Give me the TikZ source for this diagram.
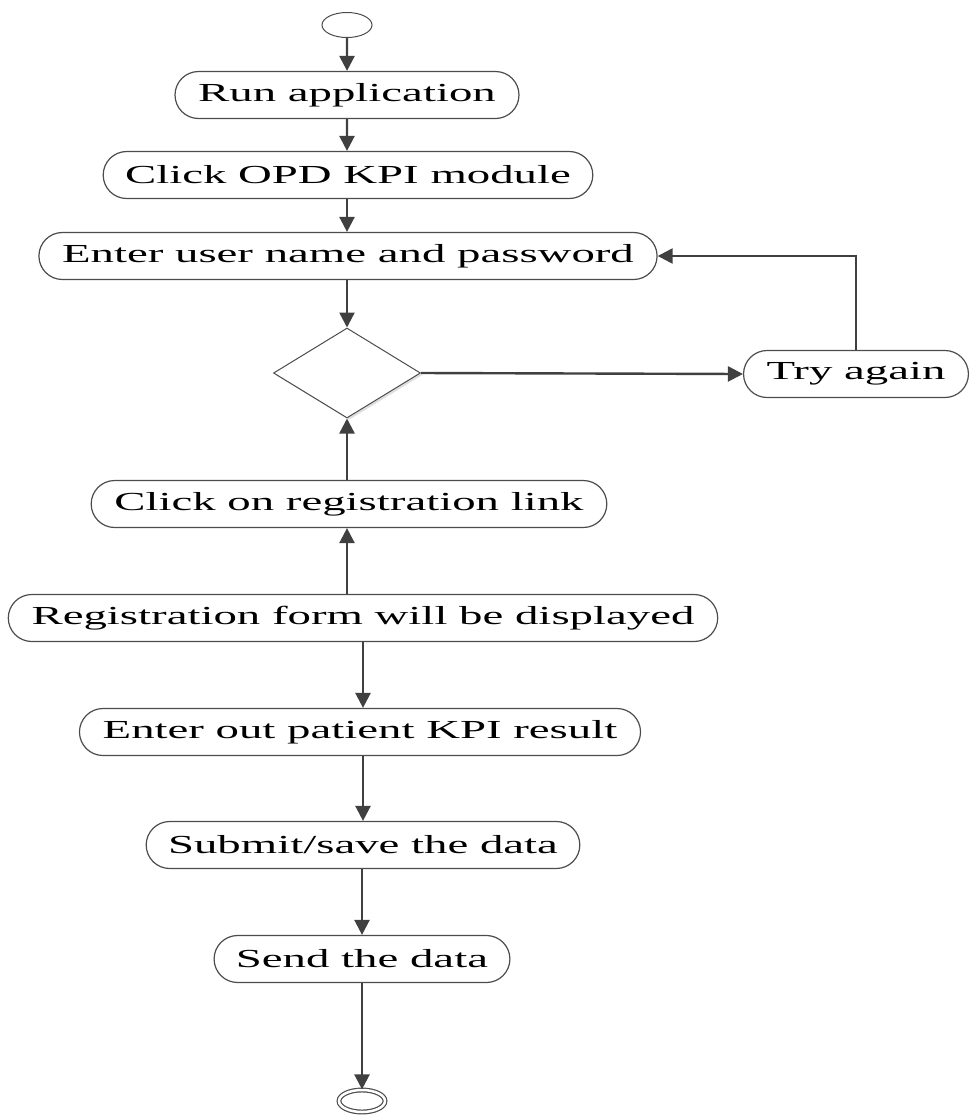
\documentclass[tikz,border=0pt]{standalone}
\usepackage{fontspec}
\setmainfont{Liberation Serif}[FakeStretch=1.8]
\usetikzlibrary{shapes.geometric,shapes.misc,arrows.meta,shadows}

\begin{document}
\begin{tikzpicture}[x=1pt,y=-1pt,
    act/.style={draw=black!70, line width=1.2pt, rounded rectangle, inner xsep=20pt, inner ysep=2pt,
        minimum height=47pt, font=\fontsize{26}{28}\selectfont},
    flow/.style={draw=black!75, line width=2.4pt, -{Triangle[length=15pt,width=15pt]}}]

    \useasboundingbox (0,0) rectangle (971,1120);

    %start and end:
    \node[ellipse, draw=black!70, line width=1pt, minimum width=50pt, minimum height=25pt] (start) at (347,25) {};
    \node[ellipse, draw=black!70, line width=1.2pt, double, double distance=2.5pt,
        minimum width=46pt, minimum height=22pt] (finish) at (362,1101) {};

    %activities:
    \node[act] (run) at (347,95) {Run application};
    \node[act] (opd) at (348,175) {Click OPD KPI module};
    \node[act] (login) at (348,256) {Enter user name and password};
    \node[diamond, draw=black!70, fill=white, line width=1pt, minimum width=147pt, minimum height=90pt, inner sep=0pt,
        drop shadow={opacity=0.25, shadow xshift=2pt, shadow yshift=-2pt}] (check) at (347,373) {};
    \node[act] (again) at (856,374) {Try again};
    \node[act] (reglink) at (349,504) {Click on registration link};
    \node[act] (regform) at (363,618) {Registration form will be displayed};
    \node[act] (kpi) at (360,732) {Enter out patient KPI result};
    \node[act] (submit) at (363,845) {Submit/save the data};
    \node[act] (send) at (362,959) {Send the data};

    %connectors:
    \draw[flow] (start) -- (run);
    \draw[flow] (run) -- (opd.north -| run);
    \draw[flow] (opd.south -| run) -- (login.north -| run);
    \draw[flow] (login.south -| check) -- (check.north);
    \draw[flow] (check.east) -- (again.west);
    \draw[flow] (again.north) |- (login.east);
    \draw[flow] (reglink.north -| check) -- (check.south);
    \draw[flow] (regform.north -| check) -- (reglink.south -| check);
    \draw[flow] (regform.south) -- (kpi.north -| regform);
    \draw[flow] (kpi.south -| regform) -- (submit.north -| regform);
    \draw[flow] (submit.south -| finish) -- (send.north -| finish);
    \draw[flow] (send.south -| finish) -- (finish.north);

\end{tikzpicture}
\end{document}
